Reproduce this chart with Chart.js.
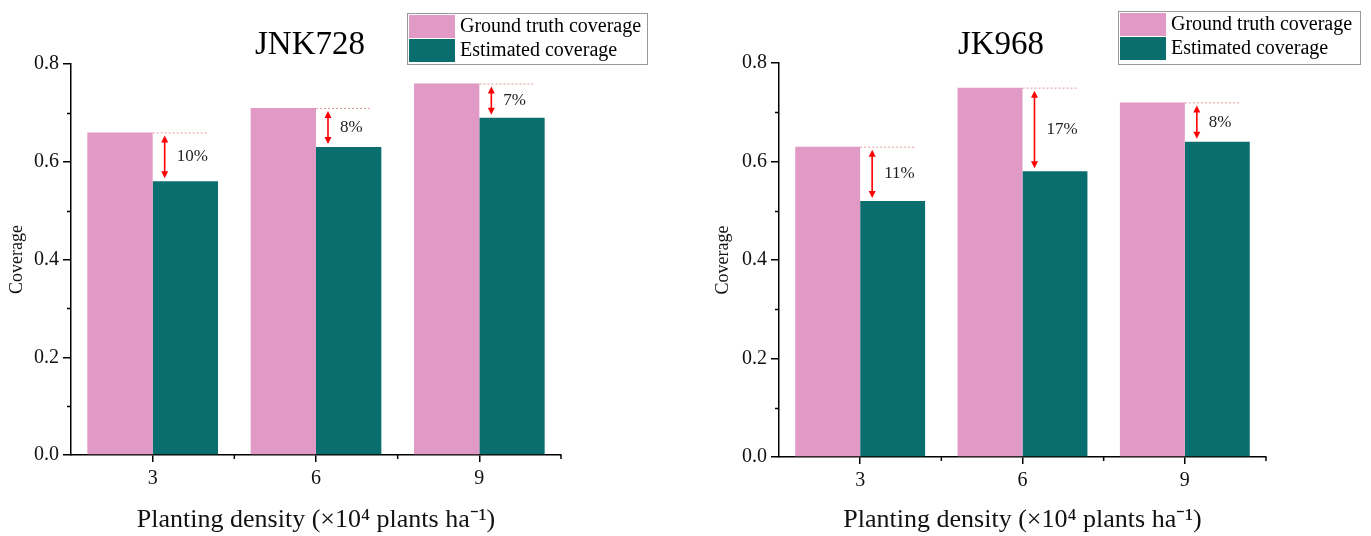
<!DOCTYPE html>
<html>
<head>
<meta charset="utf-8">
<title>Coverage by planting density</title>
<script src="https://cdn.jsdelivr.net/npm/chart.js@4.4.1/dist/chart.umd.min.js"></script>
<style>
  html, body { margin: 0; padding: 0; background: #fff; }
  #wrap { position: relative; width: 1371px; height: 536px; }
  .panel { position: absolute; top: 0; height: 536px; }
  #leftPanel { left: 0; width: 685px; }
  #rightPanel { left: 685px; width: 686px; }
</style>
</head>
<body>
<div id="wrap">
  <div class="panel" id="leftPanel"><canvas id="jnkChart"></canvas></div>
  <div class="panel" id="rightPanel"><canvas id="jkChart"></canvas></div>
</div>
<script>
// data
const densities = ['3', '6', '9'];
const seriesNames = ['Ground truth coverage', 'Estimated coverage'];

const jnkTruth = [0.66, 0.71, 0.76];
const jnkEst = [0.56, 0.63, 0.69];
const jnkGap = ['10%', '8%', '7%'];

const jkTruth = [0.63, 0.75, 0.72];
const jkEst = [0.52, 0.58, 0.64];
const jkGap = ['11%', '17%', '8%'];

const yMax = 0.8;
const yMajor = 0.2;
const yMinor = [0.1, 0.3, 0.5, 0.7];

const serif = '"Liberation Serif", "Times New Roman", serif';
const pink = '#E199C5';
const teal = '#0A6E6E';

// draws title, legend box, minor ticks and the gap arrows
const extrasPlugin = {
  id: 'extras',
  afterDraw(chart) {
    const o = chart.options.plugins.extras;
    const ctx = chart.ctx;
    const xs = chart.scales.x;
    const ys = chart.scales.y;
    ctx.save();

    // title
    ctx.fillStyle = '#000';
    ctx.font = '33px ' + serif;
    ctx.textAlign = 'center';
    ctx.textBaseline = 'middle';
    ctx.fillText(o.title, o.titleX, 45);

    // minor ticks
    ctx.strokeStyle = '#000';
    ctx.lineWidth = 1.5;
    yMinor.forEach(v => {
      const py = Math.round(ys.getPixelForValue(v)) + 0.5;
      ctx.beginPath();
      ctx.moveTo(xs.left - 4, py);
      ctx.lineTo(xs.left, py);
      ctx.stroke();
    });
    for (let i = 1; i < densities.length + 1; i++) {
      const px = xs.getPixelForValue(i - 0.5);
      ctx.beginPath();
      ctx.moveTo(px, ys.bottom);
      ctx.lineTo(px, ys.bottom + 4);
      ctx.stroke();
    }

    // gap markers
    const truthBars = chart.getDatasetMeta(0).data;
    const estBars = chart.getDatasetMeta(1).data;
    truthBars.forEach((tb, i) => {
      const eb = estBars[i];
      const tRight = tb.x + tb.width / 2;
      const eLeft = eb.x - eb.width / 2;
      const eRight = eb.x + eb.width / 2;

      ctx.strokeStyle = '#e79a9a';
      ctx.lineWidth = 1;
      ctx.setLineDash([2, 2]);
      ctx.beginPath();
      ctx.moveTo(tRight, tb.y + 0.5);
      ctx.lineTo(eRight - 11, tb.y + 0.5);
      ctx.stroke();
      ctx.setLineDash([]);

      const ax = eLeft + 12;
      const y1 = tb.y + 3;
      const y2 = eb.y - 3;
      ctx.strokeStyle = '#ff0000';
      ctx.fillStyle = '#ff0000';
      ctx.lineWidth = 1.6;
      ctx.beginPath();
      ctx.moveTo(ax, y1 + 5);
      ctx.lineTo(ax, y2 - 5);
      ctx.stroke();
      ctx.beginPath();
      ctx.moveTo(ax, y1);
      ctx.lineTo(ax - 3.5, y1 + 7);
      ctx.lineTo(ax + 3.5, y1 + 7);
      ctx.closePath();
      ctx.fill();
      ctx.beginPath();
      ctx.moveTo(ax, y2);
      ctx.lineTo(ax - 3.5, y2 - 7);
      ctx.lineTo(ax + 3.5, y2 - 7);
      ctx.closePath();
      ctx.fill();

      ctx.fillStyle = '#222';
      ctx.font = '17px ' + serif;
      ctx.textAlign = 'left';
      ctx.textBaseline = 'middle';
      ctx.fillText(o.gaps[i], eLeft + 24, (tb.y + eb.y) / 2);
    });

    // legend
    const L = o.legend;
    ctx.fillStyle = '#fff';
    ctx.fillRect(L.x, L.y, L.w, L.h);
    ctx.strokeStyle = '#999';
    ctx.lineWidth = 1;
    ctx.strokeRect(L.x + 0.5, L.y + 0.5, L.w, L.h);
    chart.data.datasets.forEach((ds, k) => {
      const ry = L.y + 2 + k * 24;
      ctx.fillStyle = ds.backgroundColor;
      ctx.fillRect(L.x + 2, ry, 46, 23);
      ctx.fillStyle = '#000';
      ctx.font = '20px ' + serif;
      ctx.textAlign = 'left';
      ctx.textBaseline = 'middle';
      ctx.fillText(ds.label, L.x + 53, ry + 12);
    });

    ctx.restore();
  }
};

function makeChart(canvasId, truth, est, gaps, opts) {
  return new Chart(document.getElementById(canvasId), {
    type: 'bar',
    data: {
      labels: densities,
      datasets: [
        { label: seriesNames[0], data: truth, backgroundColor: pink },
        { label: seriesNames[1], data: est, backgroundColor: teal }
      ]
    },
    options: {
      responsive: true,
      maintainAspectRatio: false,
      animation: false,
      devicePixelRatio: 1,
      categoryPercentage: 0.8,
      barPercentage: 1.0,
      layout: { padding: { top: opts.top, right: opts.right, left: 0, bottom: 0 } },
      plugins: {
        legend: { display: false },
        tooltip: { enabled: false },
        extras: { title: opts.title, titleX: opts.titleX, gaps: gaps, legend: opts.legend }
      },
      scales: {
        x: {
          afterFit: s => { s.height = opts.xHeight; },
          grid: { offset: false, drawOnChartArea: false, drawTicks: true, tickLength: 7, color: '#000', lineWidth: 1.5 },
          border: { display: true, color: '#000', width: 1.5 },
          ticks: { color: '#111', padding: 5, font: { family: serif, size: 20 } },
          title: {
            display: true,
            text: 'Planting density (×10⁴ plants ha⁻¹)',
            color: '#111',
            font: { family: serif, size: 26 },
            padding: { top: 0, bottom: 0 }
          }
        },
        y: {
          min: 0,
          max: yMax,
          afterFit: s => { s.width = opts.yWidth; },
          grid: { drawOnChartArea: false, drawTicks: true, tickLength: 8, color: '#000', lineWidth: 1.5 },
          border: { display: true, color: '#000', width: 1.5 },
          ticks: {
            stepSize: yMajor,
            color: '#111',
            padding: 4,
            font: { family: serif, size: 20 },
            callback: v => v.toFixed(1)
          },
          title: {
            display: true,
            text: 'Coverage',
            color: '#111',
            font: { family: serif, size: 18 },
            padding: { top: opts.yTitlePad, bottom: 0 }
          }
        }
      }
    },
    plugins: [extrasPlugin]
  });
}

makeChart('jnkChart', jnkTruth, jnkEst, jnkGap, {
  title: 'JNK728', titleX: 310,
  top: 64, right: 124, yWidth: 71, xHeight: 81, yTitlePad: 6,
  legend: { x: 407, y: 13, w: 240, h: 51 }
});

makeChart('jkChart', jkTruth, jkEst, jkGap, {
  title: 'JK968', titleX: 316,
  top: 63, right: 105, yWidth: 94, xHeight: 79, yTitlePad: 27,
  legend: { x: 433, y: 11, w: 242, h: 53 }
});
</script>
</body>
</html>
